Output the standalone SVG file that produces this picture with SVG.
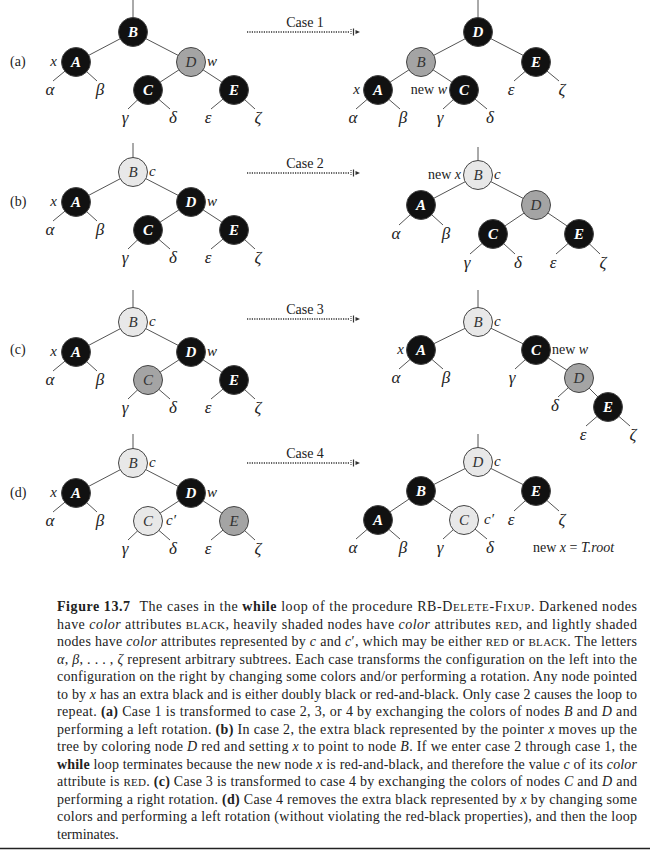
<svg xmlns="http://www.w3.org/2000/svg" width="650" height="851" viewBox="0 0 650 851">
<style>
text{font-family:"Liberation Serif","Times New Roman",serif;fill:#222}
.blk{fill:#111;stroke:#444;stroke-width:1}
.red{fill:#a4a4a4;stroke:#444;stroke-width:1}
.lt{fill:#e8e8e8;stroke:#444;stroke-width:1}
.nb{font-size:15px;font-weight:bold;font-style:italic;fill:#fff;text-anchor:middle}
.nl{font-size:15px;font-style:italic;fill:#333;text-anchor:middle}
.g{font-size:17px;font-style:italic;text-anchor:middle}
.lab{font-size:15px;font-style:italic}
.rm{font-size:14px}
.case{font-size:14px;text-anchor:middle}
.e{stroke:#555;stroke-width:1;fill:none}
.arr{stroke:#333;stroke-width:1.6;stroke-dasharray:1.2 1.2}
.cap{font-size:14px}
.b{font-weight:bold}
.i{font-style:italic}
.sc{font-size:11px}
</style>
<defs>
<marker id="ah" markerWidth="12" markerHeight="10" refX="0" refY="5" orient="auto" markerUnits="userSpaceOnUse" viewBox="0 0 12 10">
<line x1="1" y1="2" x2="1" y2="8" stroke="#333" stroke-width="1" stroke-dasharray="1 1"/>
<line x1="3.5" y1="1.5" x2="3.5" y2="8.5" stroke="#333" stroke-width="1.2"/>
<path d="M5.5,3 L10,5 L5.5,7 Z" fill="#333"/>
</marker>
</defs>

<g id="connectors">
<path class="e" d="M133,0V18 M133,32L76,62 M133,32L191,62 M191,62L148,90 M191,62L234,90 M76,62L53,81 M76,62L97,81 M148,90L128,109 M148,90L170,109 M234,90L211,109 M234,90L255,109"/>
<path class="e" d="M478,0V18 M478,32L421,62 M478,32L536,62 M421,62L378,90 M421,62L464,90 M378,90L356,109 M378,90L400,109 M464,90L443,109 M464,90L487,109 M536,62L514,81 M536,62L559,81"/>
<path class="e" d="M133,143V158 M133,172L76,202 M133,172L191,202 M191,202L148,230 M191,202L234,230 M76,202L53,221 M76,202L97,221 M148,230L128,249 M148,230L170,249 M234,230L211,249 M234,230L255,249"/>
<path class="e" d="M478,147V161 M478,175L421,205 M478,175L536,205 M536,205L493,234 M536,205L579,234 M421,205L399,225 M421,205L443,225 M493,234L470,254 M493,234L515,254 M579,234L556,254 M579,234L600,254"/>
<path class="e" d="M133,290V308 M133,322L76,352 M133,322L191,352 M191,352L148,380 M191,352L234,380 M76,352L53,371 M76,352L97,371 M148,380L128,399 M148,380L170,399 M234,380L211,399 M234,380L255,399"/>
<path class="e" d="M478,290V308 M478,322L421,350 M478,322L536,350 M536,350L579,378 M579,378L608,407 M421,350L399,369 M421,350L443,369 M536,350L515,369 M579,378L558,397 M608,407L586,426 M608,407L630,426"/>
<path class="e" d="M133,434V449 M133,463L76,493 M133,463L191,493 M191,493L148,521 M191,493L234,521 M76,493L53,512 M76,493L97,512 M148,521L128,540 M148,521L170,540 M234,521L211,540 M234,521L255,540"/>
<path class="e" d="M478,434V448 M478,462L421,491 M478,462L536,491 M421,491L378,520 M421,491L464,520 M378,520L356,539 M378,520L400,539 M464,520L443,539 M464,520L487,539 M536,491L514,511 M536,491L559,511"/>
<line class="arr" x1="247" y1="32" x2="350" y2="32" marker-end="url(#ah)"/>
<line class="arr" x1="247" y1="173" x2="350" y2="173" marker-end="url(#ah)"/>
<line class="arr" x1="247" y1="319" x2="350" y2="319" marker-end="url(#ah)"/>
<line class="arr" x1="247" y1="463" x2="350" y2="463" marker-end="url(#ah)"/>
</g>

<g id="labels">
<text class="rm" x="10" y="66">(a)</text>
<text class="rm" x="10" y="206">(b)</text>
<text class="rm" x="10" y="354">(c)</text>
<text class="rm" x="10" y="497">(d)</text>
<text class="case" x="305" y="27">Case 1</text>
<text class="case" x="305" y="168">Case 2</text>
<text class="case" x="305" y="314">Case 3</text>
<text class="case" x="305" y="458">Case 4</text>
</g>

<g id="a-l-B"><circle class="blk" cx="133" cy="32" r="14.5"/><text class="nb" x="133" y="37">B</text></g>
<g id="a-l-A"><circle class="blk" cx="76" cy="62" r="14.5"/><text class="nb" x="76" y="67">A</text><text class="lab" x="57" y="66" text-anchor="end">x</text></g>
<g id="a-l-D"><circle class="red" cx="191" cy="62" r="14.5"/><text class="nl" x="191" y="67">D</text><text class="lab" x="207" y="66">w</text></g>
<g id="a-l-C"><circle class="blk" cx="148" cy="90" r="14.5"/><text class="nb" x="148" y="95">C</text></g>
<g id="a-l-E"><circle class="blk" cx="234" cy="90" r="14.5"/><text class="nb" x="234" y="95">E</text></g>
<g id="a-l-sub">
<text class="g" x="50" y="95">α</text><text class="g" x="100" y="95">β</text>
<text class="g" x="125" y="123">γ</text><text class="g" x="173" y="123">δ</text>
<text class="g" x="208" y="123">ε</text><text class="g" x="258" y="123">ζ</text>
</g>

<g id="a-r-D"><circle class="blk" cx="478" cy="32" r="14.5"/><text class="nb" x="478" y="37">D</text></g>
<g id="a-r-B"><circle class="red" cx="421" cy="62" r="14.5"/><text class="nl" x="421" y="67">B</text></g>
<g id="a-r-E"><circle class="blk" cx="536" cy="62" r="14.5"/><text class="nb" x="536" y="67">E</text></g>
<g id="a-r-A"><circle class="blk" cx="378" cy="90" r="14.5"/><text class="nb" x="378" y="95">A</text><text class="lab" x="360" y="94" text-anchor="end">x</text></g>
<g id="a-r-C"><circle class="blk" cx="464" cy="90" r="14.5"/><text class="nb" x="464" y="95">C</text><text class="rm" x="447" y="94" text-anchor="end">new <tspan class="i">w</tspan></text></g>
<g id="a-r-sub">
<text class="g" x="353" y="123">α</text><text class="g" x="403" y="123">β</text>
<text class="g" x="440" y="123">γ</text><text class="g" x="490" y="123">δ</text>
<text class="g" x="511" y="95">ε</text><text class="g" x="562" y="95">ζ</text>
</g>

<g id="b-l-B"><circle class="lt" cx="133" cy="172" r="14.5"/><text class="nl" x="133" y="177">B</text><text class="lab" x="149" y="176">c</text></g>
<g id="b-l-A"><circle class="blk" cx="76" cy="202" r="14.5"/><text class="nb" x="76" y="207">A</text><text class="lab" x="57" y="206" text-anchor="end">x</text></g>
<g id="b-l-D"><circle class="blk" cx="191" cy="202" r="14.5"/><text class="nb" x="191" y="207">D</text><text class="lab" x="207" y="206">w</text></g>
<g id="b-l-C"><circle class="blk" cx="148" cy="230" r="14.5"/><text class="nb" x="148" y="235">C</text></g>
<g id="b-l-E"><circle class="blk" cx="234" cy="230" r="14.5"/><text class="nb" x="234" y="235">E</text></g>
<g id="b-l-sub">
<text class="g" x="50" y="235">α</text><text class="g" x="100" y="235">β</text>
<text class="g" x="125" y="263">γ</text><text class="g" x="173" y="263">δ</text>
<text class="g" x="208" y="263">ε</text><text class="g" x="258" y="263">ζ</text>
</g>

<g id="b-r-B"><circle class="lt" cx="478" cy="175" r="14.5"/><text class="nl" x="478" y="180">B</text><text class="lab" x="494" y="179">c</text><text class="rm" x="461" y="179" text-anchor="end">new <tspan class="i">x</tspan></text></g>
<g id="b-r-A"><circle class="blk" cx="421" cy="205" r="14.5"/><text class="nb" x="421" y="210">A</text></g>
<g id="b-r-D"><circle class="red" cx="536" cy="205" r="14.5"/><text class="nl" x="536" y="210">D</text></g>
<g id="b-r-C"><circle class="blk" cx="493" cy="234" r="14.5"/><text class="nb" x="493" y="239">C</text></g>
<g id="b-r-E"><circle class="blk" cx="579" cy="234" r="14.5"/><text class="nb" x="579" y="239">E</text></g>
<g id="b-r-sub">
<text class="g" x="396" y="239">α</text><text class="g" x="446" y="239">β</text>
<text class="g" x="467" y="268">γ</text><text class="g" x="518" y="268">δ</text>
<text class="g" x="553" y="268">ε</text><text class="g" x="603" y="268">ζ</text>
</g>

<g id="c-l-B"><circle class="lt" cx="133" cy="322" r="14.5"/><text class="nl" x="133" y="327">B</text><text class="lab" x="149" y="326">c</text></g>
<g id="c-l-A"><circle class="blk" cx="76" cy="352" r="14.5"/><text class="nb" x="76" y="357">A</text><text class="lab" x="57" y="356" text-anchor="end">x</text></g>
<g id="c-l-D"><circle class="blk" cx="191" cy="352" r="14.5"/><text class="nb" x="191" y="357">D</text><text class="lab" x="207" y="356">w</text></g>
<g id="c-l-C"><circle class="red" cx="148" cy="380" r="14.5"/><text class="nl" x="148" y="385">C</text></g>
<g id="c-l-E"><circle class="blk" cx="234" cy="380" r="14.5"/><text class="nb" x="234" y="385">E</text></g>
<g id="c-l-sub">
<text class="g" x="50" y="385">α</text><text class="g" x="100" y="385">β</text>
<text class="g" x="125" y="413">γ</text><text class="g" x="173" y="413">δ</text>
<text class="g" x="208" y="413">ε</text><text class="g" x="258" y="413">ζ</text>
</g>

<g id="c-r-B"><circle class="lt" cx="478" cy="322" r="14.5"/><text class="nl" x="478" y="327">B</text><text class="lab" x="494" y="326">c</text></g>
<g id="c-r-A"><circle class="blk" cx="421" cy="350" r="14.5"/><text class="nb" x="421" y="355">A</text><text class="lab" x="404" y="354" text-anchor="end">x</text></g>
<g id="c-r-C"><circle class="blk" cx="536" cy="350" r="14.5"/><text class="nb" x="536" y="355">C</text><text class="rm" x="552" y="354">new <tspan class="i">w</tspan></text></g>
<g id="c-r-D"><circle class="red" cx="579" cy="378" r="14.5"/><text class="nl" x="579" y="383">D</text></g>
<g id="c-r-E"><circle class="blk" cx="608" cy="407" r="14.5"/><text class="nb" x="608" y="412">E</text></g>
<g id="c-r-sub">
<text class="g" x="396" y="383">α</text><text class="g" x="446" y="383">β</text>
<text class="g" x="512" y="383">γ</text><text class="g" x="555" y="411">δ</text>
<text class="g" x="583" y="440">ε</text><text class="g" x="633" y="440">ζ</text>
</g>

<g id="d-l-B"><circle class="lt" cx="133" cy="463" r="14.5"/><text class="nl" x="133" y="468">B</text><text class="lab" x="149" y="467">c</text></g>
<g id="d-l-A"><circle class="blk" cx="76" cy="493" r="14.5"/><text class="nb" x="76" y="498">A</text><text class="lab" x="57" y="497" text-anchor="end">x</text></g>
<g id="d-l-D"><circle class="blk" cx="191" cy="493" r="14.5"/><text class="nb" x="191" y="498">D</text><text class="lab" x="207" y="497">w</text></g>
<g id="d-l-C"><circle class="lt" cx="148" cy="521" r="14.5"/><text class="nl" x="148" y="526">C</text><text class="lab" x="166" y="525">c′</text></g>
<g id="d-l-E"><circle class="red" cx="234" cy="521" r="14.5"/><text class="nl" x="234" y="526">E</text></g>
<g id="d-l-sub">
<text class="g" x="50" y="526">α</text><text class="g" x="100" y="526">β</text>
<text class="g" x="125" y="554">γ</text><text class="g" x="173" y="554">δ</text>
<text class="g" x="208" y="554">ε</text><text class="g" x="258" y="554">ζ</text>
</g>

<g id="d-r-D"><circle class="lt" cx="478" cy="462" r="14.5"/><text class="nl" x="478" y="467">D</text><text class="lab" x="494" y="466">c</text></g>
<g id="d-r-B"><circle class="blk" cx="421" cy="491" r="14.5"/><text class="nb" x="421" y="496">B</text></g>
<g id="d-r-E"><circle class="blk" cx="536" cy="491" r="14.5"/><text class="nb" x="536" y="496">E</text></g>
<g id="d-r-A"><circle class="blk" cx="378" cy="520" r="14.5"/><text class="nb" x="378" y="525">A</text></g>
<g id="d-r-C"><circle class="lt" cx="464" cy="520" r="14.5"/><text class="nl" x="464" y="525">C</text><text class="lab" x="484" y="524">c′</text></g>
<g id="d-r-sub">
<text class="g" x="353" y="553">α</text><text class="g" x="403" y="553">β</text>
<text class="g" x="440" y="553">γ</text><text class="g" x="490" y="553">δ</text>
<text class="g" x="511" y="525">ε</text><text class="g" x="562" y="525">ζ</text>
<text class="rm" x="533" y="552">new <tspan class="i">x</tspan> = <tspan class="i">T.root</tspan></text>
</g>

<g id="caption">
<text class="cap" x="57" y="611" textLength="580" lengthAdjust="spacing"><tspan class="b">Figure 13.7</tspan><tspan dx="5"> The cases in the </tspan><tspan class="b">while</tspan> loop of the procedure RB-D<tspan class="sc">ELETE</tspan>-F<tspan class="sc">IXUP</tspan>. Darkened nodes</text>
<text class="cap" x="57" y="628.5" textLength="580" lengthAdjust="spacing">have <tspan class="i">color</tspan> attributes <tspan class="sc">BLACK</tspan>, heavily shaded nodes have <tspan class="i">color</tspan> attributes <tspan class="sc">RED</tspan>, and lightly shaded</text>
<text class="cap" x="57" y="646" textLength="580" lengthAdjust="spacing">nodes have <tspan class="i">color</tspan> attributes represented by <tspan class="i">c</tspan> and <tspan class="i">c</tspan>′, which may be either <tspan class="sc">RED</tspan> or <tspan class="sc">BLACK</tspan>. The letters</text>
<text class="cap" x="57" y="663.5" textLength="580" lengthAdjust="spacing"><tspan class="i">α</tspan>, <tspan class="i">β</tspan>, . . . , <tspan class="i">ζ</tspan> represent arbitrary subtrees. Each case transforms the configuration on the left into the</text>
<text class="cap" x="57" y="681" textLength="580" lengthAdjust="spacing">configuration on the right by changing some colors and/or performing a rotation. Any node pointed</text>
<text class="cap" x="57" y="698.5" textLength="580" lengthAdjust="spacing">to by <tspan class="i">x</tspan> has an extra black and is either doubly black or red-and-black. Only case 2 causes the loop to</text>
<text class="cap" x="57" y="716" textLength="580" lengthAdjust="spacing">repeat. <tspan class="b">(a)</tspan> Case 1 is transformed to case 2, 3, or 4 by exchanging the colors of nodes <tspan class="i">B</tspan> and <tspan class="i">D</tspan> and</text>
<text class="cap" x="57" y="733.5" textLength="580" lengthAdjust="spacing">performing a left rotation. <tspan class="b">(b)</tspan> In case 2, the extra black represented by the pointer <tspan class="i">x</tspan> moves up the</text>
<text class="cap" x="57" y="751" textLength="580" lengthAdjust="spacing">tree by coloring node <tspan class="i">D</tspan> red and setting <tspan class="i">x</tspan> to point to node <tspan class="i">B</tspan>. If we enter case 2 through case 1, the</text>
<text class="cap" x="57" y="768.5" textLength="580" lengthAdjust="spacing"><tspan class="b">while</tspan> loop terminates because the new node <tspan class="i">x</tspan> is red-and-black, and therefore the value <tspan class="i">c</tspan> of its <tspan class="i">color</tspan></text>
<text class="cap" x="57" y="786" textLength="580" lengthAdjust="spacing">attribute is <tspan class="sc">RED</tspan>. <tspan class="b">(c)</tspan> Case 3 is transformed to case 4 by exchanging the colors of nodes <tspan class="i">C</tspan> and <tspan class="i">D</tspan> and</text>
<text class="cap" x="57" y="803.5" textLength="580" lengthAdjust="spacing">performing a right rotation. <tspan class="b">(d)</tspan> Case 4 removes the extra black represented by <tspan class="i">x</tspan> by changing some</text>
<text class="cap" x="57" y="821" textLength="580" lengthAdjust="spacing">colors and performing a left rotation (without violating the red-black properties), and then the loop</text>
<text class="cap" x="57" y="838.5">terminates.</text>
</g>
<line x1="0" y1="848.5" x2="650" y2="848.5" stroke="#222" stroke-width="1.5"/>
</svg>
